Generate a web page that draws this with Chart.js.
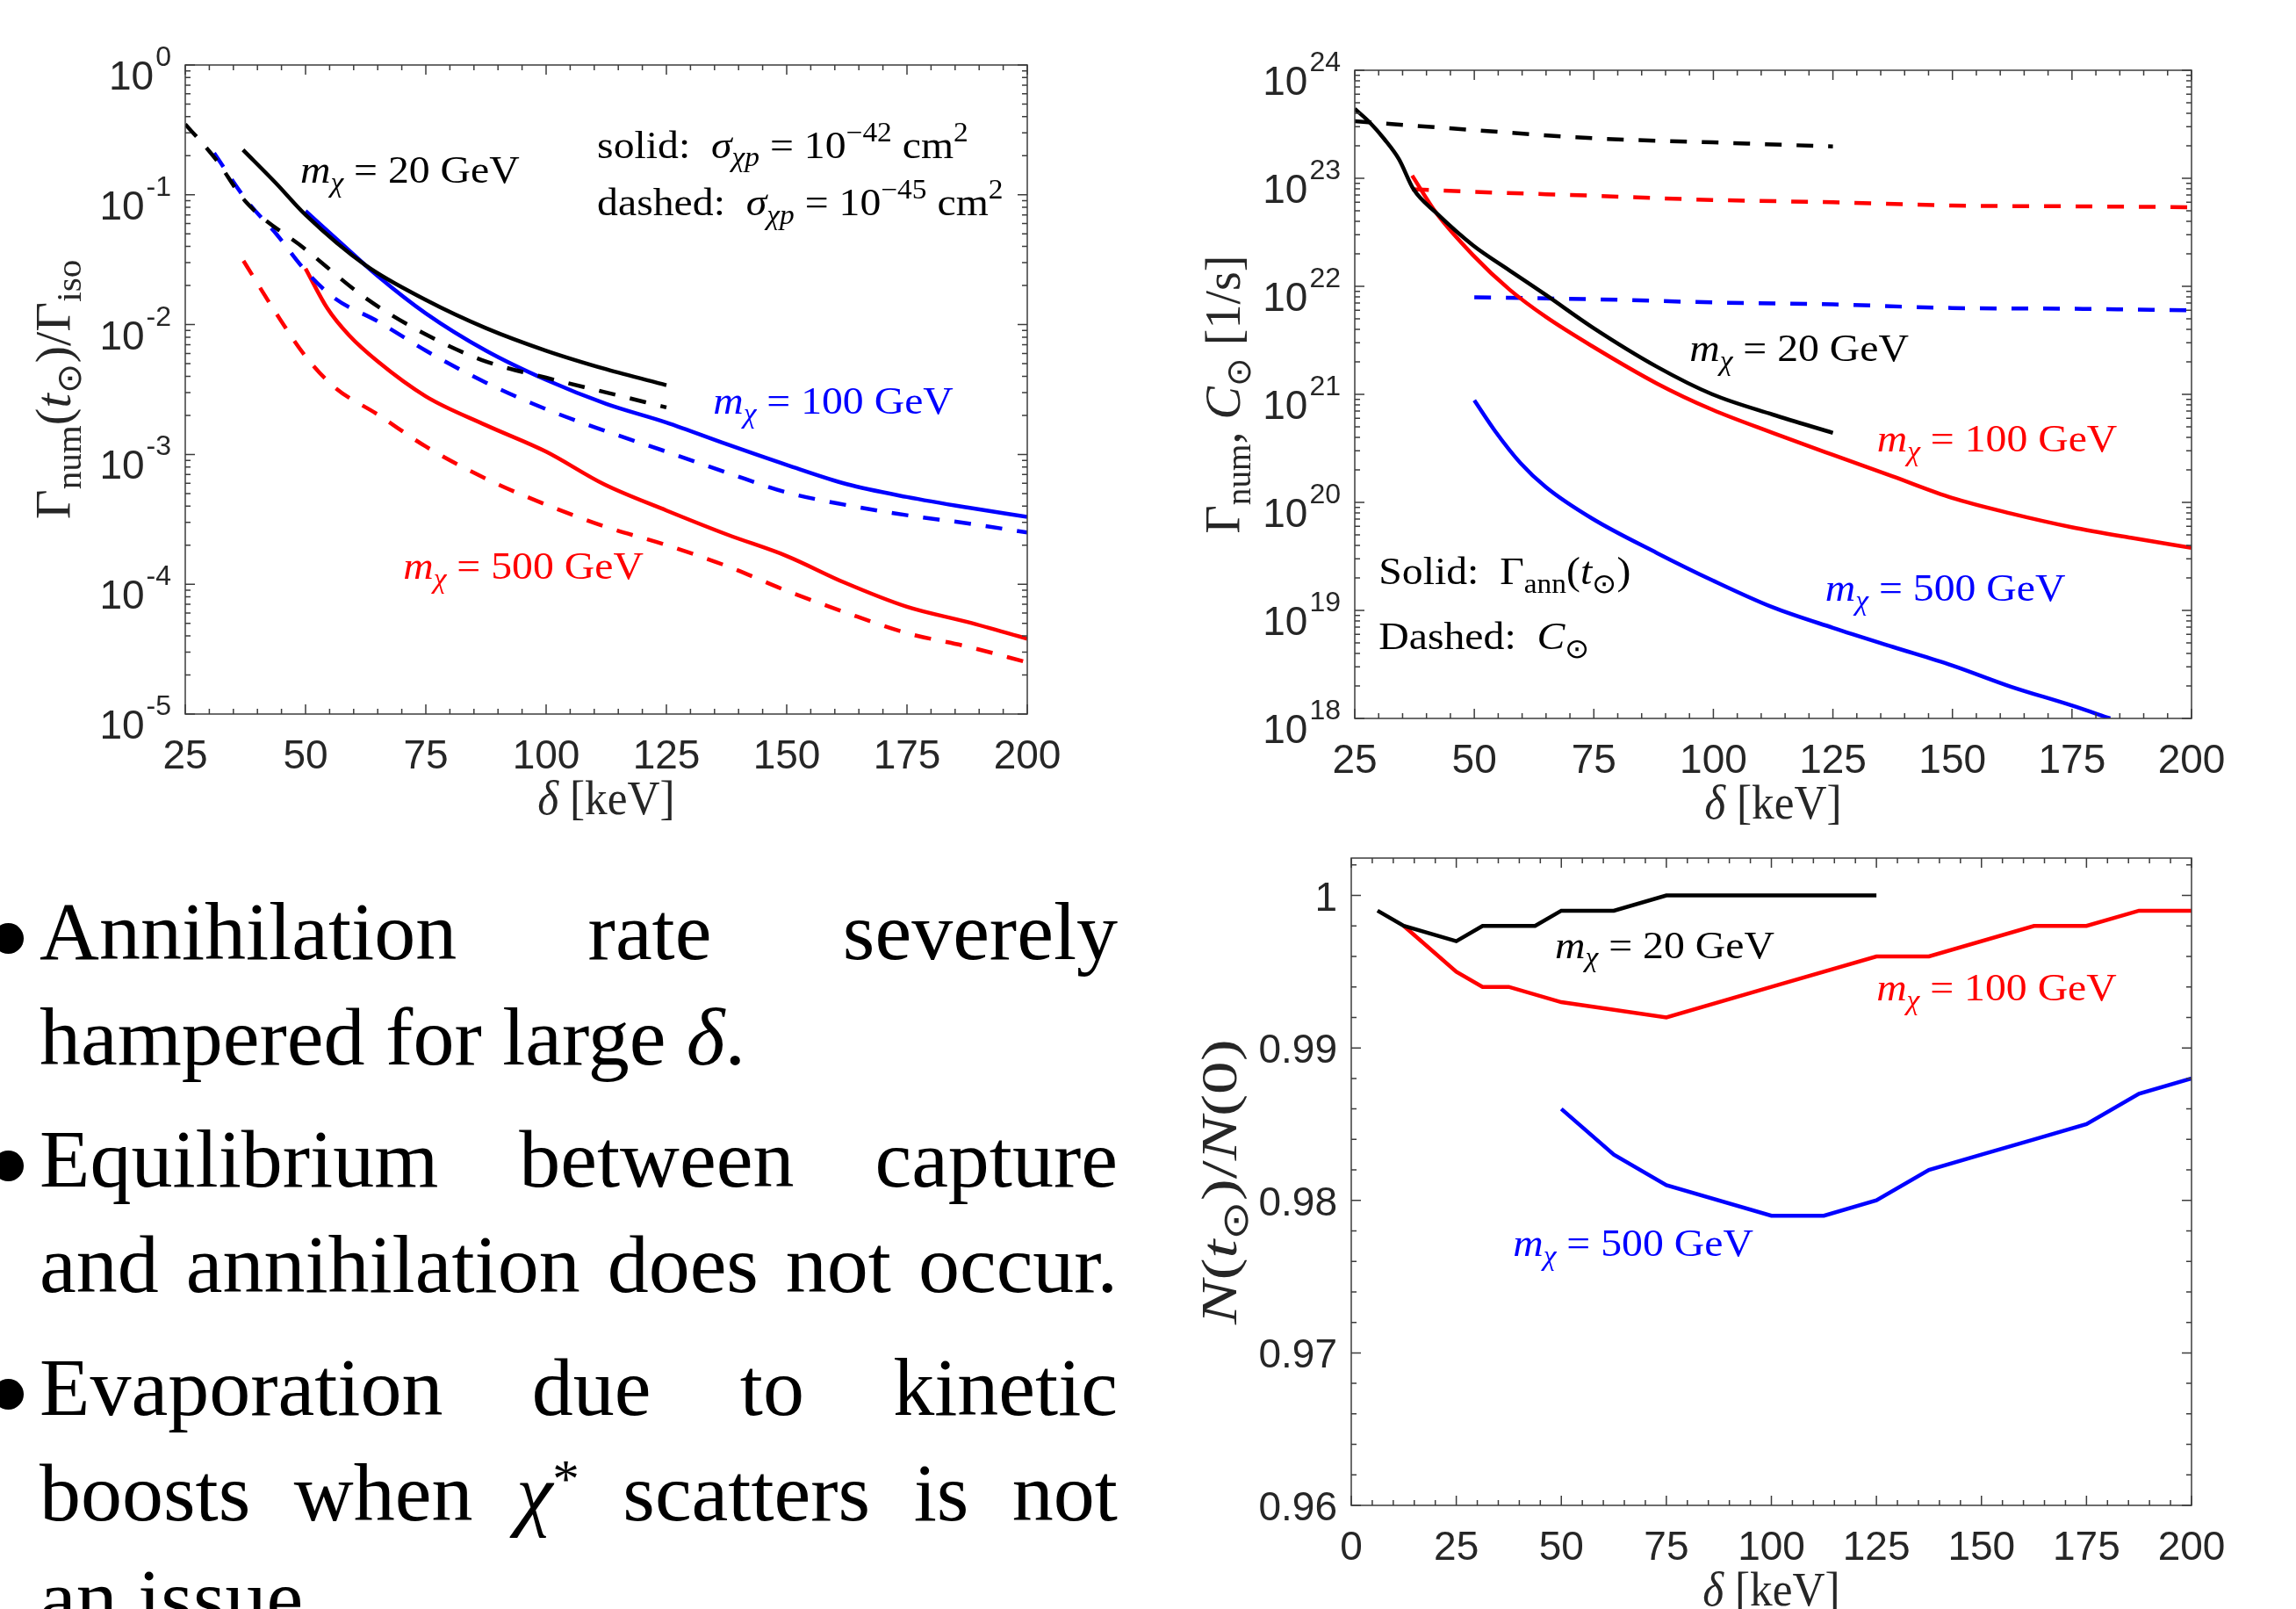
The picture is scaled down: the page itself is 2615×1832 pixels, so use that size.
<!DOCTYPE html>
<html>
<head>
<meta charset="utf-8">
<script src="https://cdn.jsdelivr.net/npm/chart.js@4.4.1/dist/chart.umd.min.js"></script>
<style>
    html, body { margin: 0; padding: 0; background: #fff; }
    body { width: 2615px; height: 1832px; position: relative; overflow: hidden; }
    canvas { position: absolute; }
    .line { position: absolute; left: 45px; width: 1228px; font-family: "Liberation Serif", serif; font-size: 94px; line-height: 1; color: #000; }
    .just { text-align: justify; text-align-last: justify; }
    .dot { position: absolute; left: -8px; width: 35px; height: 35px; border-radius: 50%; background: #000; }
    sup { font-size: 0.65em; line-height: 0; vertical-align: baseline; position: relative; top: -0.45em; }
</style>
</head>
<body>
<canvas id="rateChart" width="1300" height="960" style="left:0;top:0"></canvas>
<canvas id="captureChart" width="1315" height="960" style="left:1300px;top:0"></canvas>
<canvas id="numberChart" width="1315" height="892" style="left:1300px;top:940px"></canvas>

<div class="dot" style="top:1051px"></div>
<div class="line just" style="top:1013px">Annihilation rate severely</div>
<div class="line" style="top:1133px">hampered for large <i>δ</i>.</div>
<div class="dot" style="top:1310px"></div>
<div class="line just" style="top:1272px">Equilibrium between capture</div>
<div class="line just" style="top:1392px">and annihilation does not occur.</div>
<div class="dot" style="top:1570px"></div>
<div class="line just" style="top:1532px">Evaporation due to kinetic</div>
<div class="line just" style="top:1652px">boosts when <i>χ</i><sup>*</sup> scatters is not</div>
<div class="line" style="top:1772px">an issue.</div>

<script>
// ---- top left: Gamma_num(t_sun)/Gamma_iso vs delta
const rateXTicks = [25, 50, 75, 100, 125, 150, 175, 200];
const rateYTicks = [1e-5, 1e-4, 1e-3, 1e-2, 1e-1, 1];

const rate20SolidX = [37, 43.75, 50, 62.5, 75, 87.5, 100, 112.5, 125];
const rate20SolidY = [0.222, 0.124, 0.070, 0.0286, 0.0155, 0.0094, 0.0063, 0.00453, 0.00341];
const rate20DashX = [25, 31.25, 37.5, 50, 62.5, 75, 87.5, 100, 112.5, 125];
const rate20DashY = [0.35, 0.19, 0.089, 0.038, 0.016, 0.0084, 0.0052, 0.0039, 0.003, 0.0023];
const rate100SolidX = [50, 57.5, 65, 75, 87.5, 100, 112.5, 125, 137.5, 150, 162.5, 175, 187.5, 200];
const rate100SolidY = [0.075, 0.042, 0.0237, 0.0122, 0.0063, 0.00375, 0.00245, 0.00176, 0.0012, 0.00083, 0.00059, 0.00047, 0.00039, 0.00033];
const rate100DashX = [31, 37.9, 43.9, 50, 56, 65, 75, 87.5, 100, 112, 125, 137.8, 150, 162, 175, 187.7, 200];
const rate100DashY = [0.21, 0.089, 0.050, 0.026, 0.016, 0.0106, 0.0063, 0.00357, 0.00223, 0.00153, 0.00105, 0.00072, 0.00051, 0.00041, 0.00034, 0.000294, 0.00025];
const rate500SolidX = [50, 54.5, 59, 65, 75, 87.5, 100, 112, 125, 137.8, 150, 162, 175, 187.7, 200];
const rate500SolidY = [0.027, 0.0134, 0.0083, 0.0052, 0.0028, 0.00168, 0.00105, 0.00059, 0.00037, 0.00024, 0.000165, 0.000103, 6.7e-5, 5.1e-5, 3.8e-5];
const rate500DashX = [37.1, 43.9, 50, 56, 65, 75, 87.5, 100, 112, 125, 137.8, 150, 162, 175, 187.7, 200];
const rate500DashY = [0.031, 0.0122, 0.0057, 0.0033, 0.00203, 0.00115, 0.00065, 0.00041, 0.00028, 0.0002, 0.000137, 8.9e-5, 6.1e-5, 4.2e-5, 3.3e-5, 2.5e-5];

// ---- top right: Gamma_ann (solid) and C_sun (dashed) in 1/s
const capXTicks = [25, 50, 75, 100, 125, 150, 175, 200];
const capYTicks = [1e18, 1e19, 1e20, 1e21, 1e22, 1e23, 1e24];

const ann20X = [25, 28.1, 31.2, 34.25, 37.3, 42, 49.7, 57.4, 65, 74.6, 88.2, 99.8, 112.4, 125];
const ann20Y = [4.4e23, 3.3e23, 2.3e23, 1.5e23, 7.9e22, 4.8e22, 2.4e22, 1.4e22, 8.3e21, 4.2e21, 1.8e21, 1.0e21, 6.5e20, 4.4e20];
const cap20X = [25, 49.7, 74.6, 99.8, 125];
const cap20Y = [3.37e23, 2.8e23, 2.35e23, 2.15e23, 1.97e23];
const ann100X = [37, 42, 49.7, 57.4, 65, 74.6, 88.2, 99.8, 112.4, 125, 137.5, 149.9, 162.2, 174.9, 187.3, 200];
const ann100Y = [1.06e23, 4.8e22, 1.95e22, 9.3e21, 5.2e21, 2.8e21, 1.26e21, 7.2e20, 4.4e20, 2.75e20, 1.74e20, 1.1e20, 7.9e19, 5.9e19, 4.7e19, 3.8e19];
const cap100X = [37, 49.7, 74.6, 99.8, 125, 149.9, 174.9, 200];
const cap100Y = [7.9e22, 7.5e22, 6.9e22, 6.3e22, 6.0e22, 5.6e22, 5.5e22, 5.4e22];
const ann500X = [50, 54.3, 59.7, 65, 74.6, 88.2, 99.8, 112.4, 125, 137.5, 149.9, 162.2, 174.9, 183];
const ann500Y = [8.8e20, 4.6e20, 2.3e20, 1.38e20, 7.1e19, 3.4e19, 1.9e19, 1.07e19, 6.9e18, 4.6e18, 3.1e18, 1.97e18, 1.32e18, 1.0e18];
const cap500X = [50, 74.6, 99.8, 125, 149.9, 174.9, 200];
const cap500Y = [7.9e21, 7.6e21, 7.1e21, 6.8e21, 6.3e21, 6.2e21, 6.0e21];

// ---- bottom right: N(t_sun)/N(0)
const numXTicks = [0, 25, 50, 75, 100, 125, 150, 175, 200];
const numYTicks = [0.96, 0.97, 0.98, 0.99, 1];
const numYLabels = ['0.96', '0.97', '0.98', '0.99', '1'];

const num20X = [6.25, 12.5, 25, 31.25, 43.75, 50, 62.5, 75, 125];
const num20Y = [0.999, 0.998, 0.997, 0.998, 0.998, 0.999, 0.999, 1.0, 1.0];
const num100X = [12.5, 25, 31.25, 37.5, 50, 75, 100, 125, 137.5, 162.5, 175, 187.5, 200];
const num100Y = [0.998, 0.995, 0.994, 0.994, 0.993, 0.992, 0.994, 0.996, 0.996, 0.998, 0.998, 0.999, 0.999];
const num500X = [50, 62.5, 75, 100, 112.5, 125, 137.5, 150, 162.5, 175, 187.5, 200];
const num500Y = [0.986, 0.983, 0.981, 0.979, 0.979, 0.980, 0.982, 0.983, 0.984, 0.985, 0.987, 0.988];

const BLACK = '#000000', RED = '#ff0000', BLUE = '#0000ff';
const SERIF = '"Liberation Serif", serif';
const SANS = '"Liberation Sans", Arial, sans-serif';

function series(xs, ys, color, dashed, smooth) {
    return {
        data: xs.map((x, i) => ({ x, y: ys[i] })),
        borderColor: color,
        borderWidth: 4.5,
        borderDash: dashed ? [19, 17] : [],
        pointRadius: 0,
        fill: false,
        tension: 0,
        cubicInterpolationMode: smooth ? 'monotone' : 'default'
    };
}

// text runs: {t, i: italic, s: 'sub' | 'sup'}
function runFont(r, size) {
    return (r.i ? 'italic ' : '') + (r.s ? size * 0.7 : size) + 'px ' + SERIF;
}
function runsWidth(ctx, runs, size) {
    let w = 0;
    runs.forEach(r => { ctx.font = runFont(r, size); w += ctx.measureText(r.t).width; });
    return w;
}
function drawRuns(ctx, runs, x, y, size, color, center, stretch = 1) {
    ctx.save();
    ctx.translate(x, y);
    ctx.scale(stretch, 1);
    let cx = center ? -runsWidth(ctx, runs, size) / 2 : 0;
    ctx.fillStyle = color;
    ctx.textAlign = 'left';
    ctx.textBaseline = 'alphabetic';
    runs.forEach(r => {
        ctx.font = runFont(r, size);
        const dy = r.s === 'sub' ? size * 0.22 : r.s === 'sup' ? -size * 0.42 : 0;
        ctx.fillText(r.t, cx, dy);
        cx += ctx.measureText(r.t).width;
    });
    ctx.restore();
}
const mass = gev => [{ t: 'm', i: true }, { t: 'χ', i: true, s: 'sub' }, { t: ' = ' + gev + ' GeV' }];
const deltaTitle = [{ t: 'δ', i: true }, { t: ' [keV]' }];

function makeFrame(cfg) {
    return {
        id: 'frame',
        afterDatasetsDraw(chart) {
            const { ctx, chartArea: a, scales: { x, y } } = chart;
            ctx.save();
            ctx.strokeStyle = '#3c3c3c';
            ctx.lineWidth = 1.5;
            ctx.beginPath();
            const tickX = (v, len) => {
                const px = x.getPixelForValue(v);
                ctx.moveTo(px, a.bottom); ctx.lineTo(px, a.bottom - len);
                ctx.moveTo(px, a.top); ctx.lineTo(px, a.top + len);
            };
            const tickY = (v, len) => {
                const py = y.getPixelForValue(v);
                ctx.moveTo(a.left, py); ctx.lineTo(a.left + len, py);
                ctx.moveTo(a.right, py); ctx.lineTo(a.right - len, py);
            };
            for (let i = 0; x.min + i * 5 <= x.max; i++) tickX(x.min + i * 5, 6);
            cfg.xTicks.forEach(v => tickX(v, 11));
            if (cfg.logY) {
                for (let e = Math.round(Math.log10(y.min)); e < Math.round(Math.log10(y.max)); e++) {
                    for (let k = 2; k < 10; k++) tickY(k * Math.pow(10, e), 6);
                }
            } else {
                for (let i = 0; y.min + i * 0.002 <= y.max; i++) tickY(y.min + i * 0.002, 6);
            }
            cfg.yTicks.forEach(v => tickY(v, 11));
            ctx.stroke();
            ctx.strokeRect(a.left, a.top, a.width, a.height);

            // tick labels
            ctx.fillStyle = '#262626';
            ctx.textBaseline = 'alphabetic';
            ctx.font = '46px ' + SANS;
            ctx.textAlign = 'center';
            cfg.xTicks.forEach(v => ctx.fillText(String(v), x.getPixelForValue(v), a.bottom + 62));
            ctx.textAlign = 'left';
            cfg.yTicks.forEach((v, i) => {
                const py = y.getPixelForValue(v);
                const right = a.left - 16;
                if (cfg.logY) {
                    const ex = String(Math.round(Math.log10(v)));
                    ctx.font = '32px ' + SANS;
                    const ws = ctx.measureText(ex).width;
                    ctx.fillText(ex, right - ws, py + 1);
                    ctx.font = '46px ' + SANS;
                    const wb = ctx.measureText('10').width;
                    ctx.fillText('10', right - ws - wb - 2, py + 28);
                } else {
                    ctx.font = '46px ' + SANS;
                    const lab = cfg.yLabels[i];
                    ctx.fillText(lab, right - ctx.measureText(lab).width, py + 17);
                }
            });

            // axis titles
            drawRuns(ctx, deltaTitle, (a.left + a.right) / 2, a.bottom + 114, 54, '#262626', true, 0.95);
            ctx.save();
            ctx.translate(a.left - 131, (a.top + a.bottom) / 2);
            ctx.rotate(-Math.PI / 2);
            drawRuns(ctx, cfg.yTitle, 0, 0, cfg.yTitleSize, '#262626', true, cfg.yTitleStretch);
            ctx.restore();

            // in-plot notes, anchored in data coordinates
            cfg.notes.forEach(n => {
                drawRuns(ctx, n.runs, x.getPixelForValue(n.x), y.getPixelForValue(n.y), 44, n.color, false, 1.085);
            });
            ctx.restore();
        }
    };
}

function makeChart(id, datasets, xMin, xMax, yType, yMin, yMax, pad, frameCfg) {
    return new Chart(document.getElementById(id), {
        type: 'line',
        data: { datasets },
        options: {
            responsive: false,
            animation: false,
            layout: { padding: pad },
            plugins: { legend: { display: false }, tooltip: { enabled: false } },
            scales: {
                x: { type: 'linear', min: xMin, max: xMax, display: false },
                y: { type: yType, min: yMin, max: yMax, display: false }
            }
        },
        plugins: [makeFrame(frameCfg)]
    });
}

makeChart('rateChart', [
    series(rate20SolidX, rate20SolidY, BLACK, false, true),
    series(rate20DashX, rate20DashY, BLACK, true, true),
    series(rate100SolidX, rate100SolidY, BLUE, false, true),
    series(rate100DashX, rate100DashY, BLUE, true, true),
    series(rate500SolidX, rate500SolidY, RED, false, true),
    series(rate500DashX, rate500DashY, RED, true, true)
], 25, 200, 'logarithmic', 1e-5, 1, { left: 211, top: 74, right: 130, bottom: 147 }, {
    xTicks: rateXTicks, yTicks: rateYTicks, logY: true,
    yTitle: [{ t: 'Γ' }, { t: 'num', s: 'sub' }, { t: '(' }, { t: 't', i: true }, { t: '⊙', s: 'sub' }, { t: ')/Γ' }, { t: 'iso', s: 'sub' }],
    yTitleSize: 56, yTitleStretch: 1.05,
    notes: [
        { x: 48.9, y: 0.124, color: BLACK, runs: mass(20) },
        { x: 110.6, y: 0.193, color: BLACK, runs: [{ t: 'solid:  ' }, { t: 'σ', i: true }, { t: 'χp', i: true, s: 'sub' }, { t: ' = 10' }, { t: '−42', s: 'sup' }, { t: ' cm' }, { t: '2', s: 'sup' }] },
        { x: 110.6, y: 0.0697, color: BLACK, runs: [{ t: 'dashed:  ' }, { t: 'σ', i: true }, { t: 'χp', i: true, s: 'sub' }, { t: ' = 10' }, { t: '−45', s: 'sup' }, { t: ' cm' }, { t: '2', s: 'sup' }] },
        { x: 134.7, y: 0.00206, color: BLUE, runs: mass(100) },
        { x: 70.3, y: 1.1e-4, color: RED, runs: mass(500) }
    ]
});

makeChart('captureChart', [
    series(ann20X, ann20Y, BLACK, false, true),
    series(cap20X, cap20Y, BLACK, true, true),
    series(ann100X, ann100Y, RED, false, true),
    series(cap100X, cap100Y, RED, true, true),
    series(ann500X, ann500Y, BLUE, false, true),
    series(cap500X, cap500Y, BLUE, true, true)
], 25, 200, 'logarithmic', 1e18, 1e24, { left: 243, top: 80, right: 119, bottom: 142 }, {
    xTicks: capXTicks, yTicks: capYTicks, logY: true,
    yTitle: [{ t: 'Γ' }, { t: 'num', s: 'sub' }, { t: ', ' }, { t: 'C', i: true }, { t: '⊙', s: 'sub' }, { t: ' [1/s]' }],
    yTitleSize: 56, yTitleStretch: 1,
    notes: [
        { x: 95, y: 2.04e21, color: BLACK, runs: mass(20) },
        { x: 134.2, y: 2.95e20, color: RED, runs: mass(100) },
        { x: 123.4, y: 1.23e19, color: BLUE, runs: mass(500) },
        { x: 30, y: 1.74e19, color: BLACK, runs: [{ t: 'Solid:  Γ' }, { t: 'ann', s: 'sub' }, { t: '(' }, { t: 't', i: true }, { t: '⊙', s: 'sub' }, { t: ')' }] },
        { x: 30, y: 4.4e18, color: BLACK, runs: [{ t: 'Dashed:  ' }, { t: 'C', i: true }, { t: '⊙', s: 'sub' }] }
    ]
});

makeChart('numberChart', [
    series(num20X, num20Y, BLACK, false, false),
    series(num100X, num100Y, RED, false, false),
    series(num500X, num500Y, BLUE, false, false)
], 0, 200, 'linear', 0.96, 1.00245, { left: 239, top: 37, right: 119, bottom: 118 }, {
    xTicks: numXTicks, yTicks: numYTicks, yLabels: numYLabels, logY: false,
    yTitle: [{ t: 'N', i: true }, { t: '(' }, { t: 't', i: true }, { t: '⊙', s: 'sub' }, { t: ')/' }, { t: 'N', i: true }, { t: '(0)' }],
    yTitleSize: 58, yTitleStretch: 1.3,
    notes: [
        { x: 48.5, y: 0.9959, color: BLACK, runs: mass(20) },
        { x: 125, y: 0.99312, color: RED, runs: mass(100) },
        { x: 38.5, y: 0.97636, color: BLUE, runs: mass(500) }
    ]
});
</script>
</body>
</html>
